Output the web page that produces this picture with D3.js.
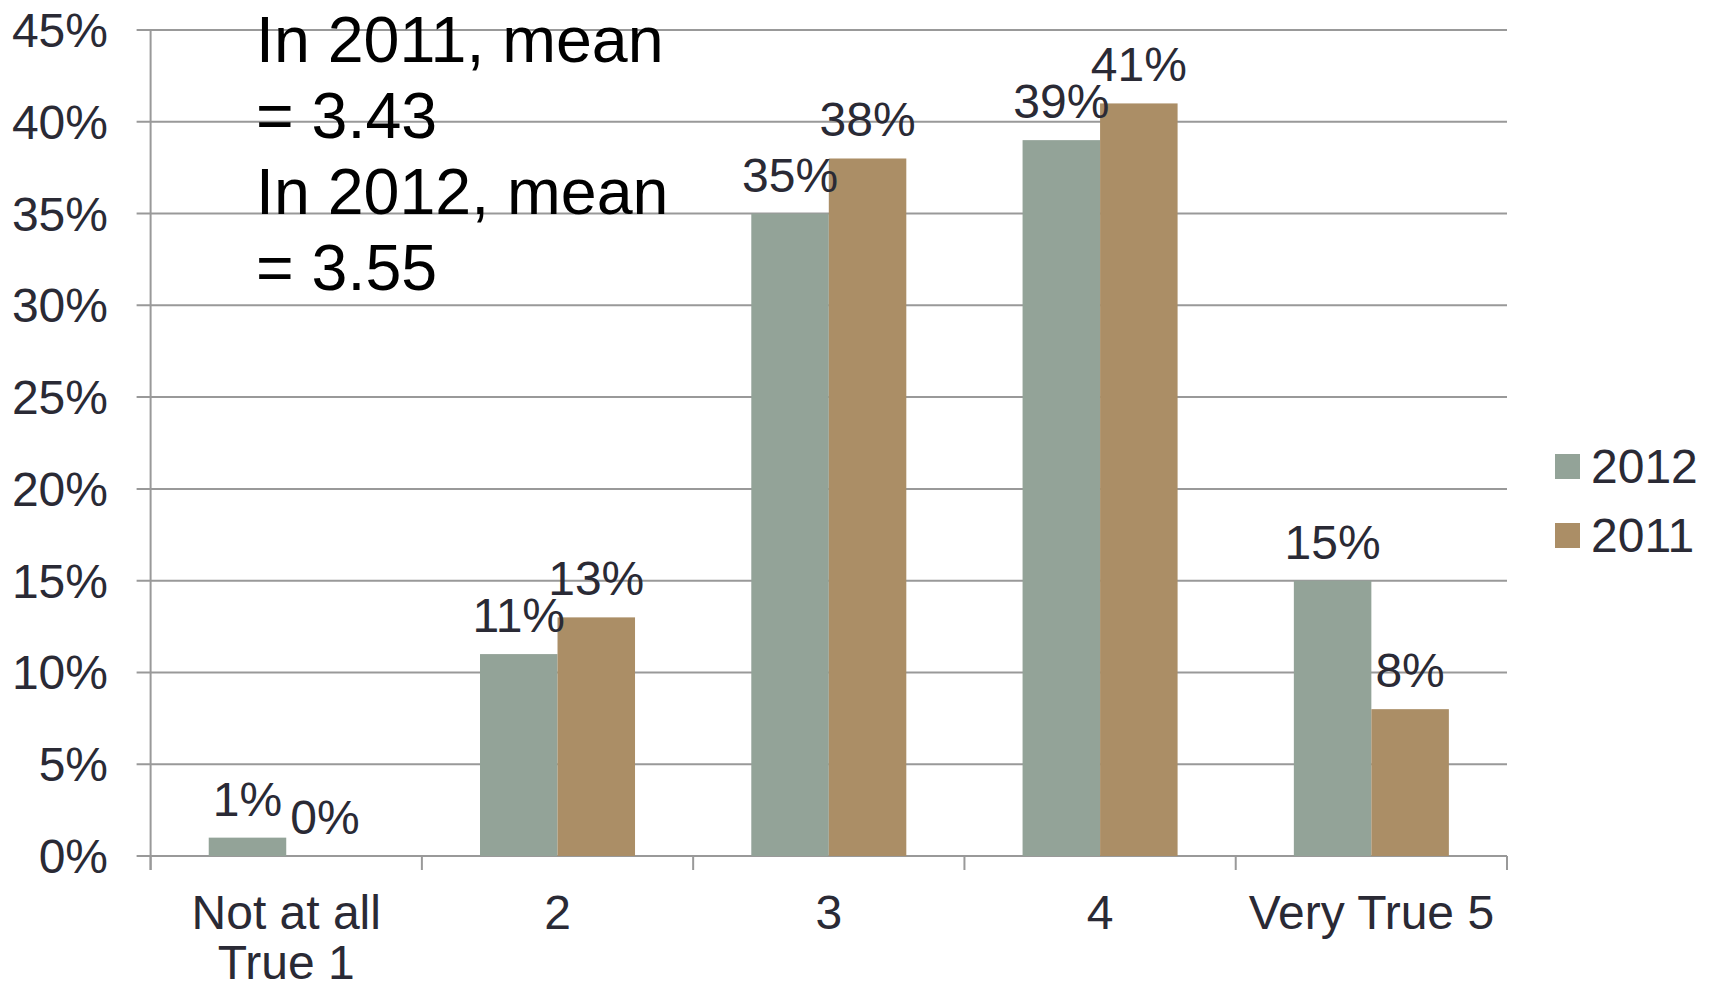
<!DOCTYPE html>
<html>
<head>
<meta charset="utf-8">
<script src="https://cdn.jsdelivr.net/npm/d3@7"></script>
<style>
  html, body { margin: 0; padding: 0; background: #fff; }
  svg { display: block; font-family: "Liberation Sans", Arial, sans-serif; }
</style>
</head>
<body>
<svg id="chart" width="1711" height="989"></svg>
<script>
// Response categories (labels may wrap onto two lines)
const categories = [["Not at all", "True 1"], ["2"], ["3"], ["4"], ["Very True 5"]];
const seriesNames = ["2012", "2011"];
const values2012 = [1, 11, 35, 39, 15];
const values2011 = [0, 13, 38, 41, 8];
const yTicks = [0, 5, 10, 15, 20, 25, 30, 35, 40, 45];
const notes = ["In 2011, mean", "= 3.43", "In 2012, mean", "= 3.55"];

const colors = { "2012": "#93a398", "2011": "#ab8e66" };
const textColor = "#2a2a35";
const gridColor = "#999999";
const labelSize = 48;

const svg = d3.select("#chart");
const plotLeft = 150.6, plotRight = 1507, plotTop = 30, plotBottom = 856;

const catKeys = categories.map((c, i) => i);
const x0 = d3.scaleBand().domain(catKeys).range([plotLeft, plotRight]).paddingInner(0).paddingOuter(0);
const x1 = d3.scaleBand().domain(seriesNames).range([0, x0.bandwidth()]).paddingInner(0).paddingOuter(0.75);
const y = d3.scaleLinear().domain([0, 45]).range([plotBottom, plotTop]);

// Horizontal gridlines
svg.append("g")
  .selectAll("line")
  .data(yTicks)
  .join("line")
  .attr("x1", plotLeft - 14).attr("x2", plotRight)
  .attr("y1", d => y(d)).attr("y2", d => y(d))
  .attr("stroke", gridColor).attr("stroke-width", 2);

// Y axis line
svg.append("line")
  .attr("x1", plotLeft).attr("x2", plotLeft)
  .attr("y1", plotTop).attr("y2", plotBottom + 14)
  .attr("stroke", gridColor).attr("stroke-width", 2);

// X axis tick marks at category boundaries
const bounds = catKeys.map(k => x0(k)).concat([plotRight]);
svg.append("g").selectAll("line")
  .data(bounds)
  .join("line")
  .attr("x1", d => d).attr("x2", d => d)
  .attr("y1", plotBottom).attr("y2", plotBottom + 14)
  .attr("stroke", gridColor).attr("stroke-width", 2);

// Y tick labels
svg.append("g").selectAll("text")
  .data(yTicks)
  .join("text")
  .attr("x", 108)
  .attr("y", d => y(d) + 17)
  .attr("text-anchor", "end")
  .attr("font-size", labelSize)
  .attr("fill", textColor)
  .text(d => d + "%");

// Bars
const rows = catKeys.map(i => ({ cat: i, vals: [
  { s: "2012", v: values2012[i] },
  { s: "2011", v: values2011[i] }
]}));

const groups = svg.append("g").selectAll("g")
  .data(rows)
  .join("g")
  .attr("transform", d => `translate(${x0(d.cat)},0)`);

groups.selectAll("rect")
  .data(d => d.vals)
  .join("rect")
  .attr("x", d => x1(d.s))
  .attr("y", d => y(d.v))
  .attr("width", x1.bandwidth())
  .attr("height", d => y(0) - y(d.v))
  .attr("fill", d => colors[d.s]);

groups.selectAll("text")
  .data(d => d.vals)
  .join("text")
  .attr("x", d => x1(d.s) + x1.bandwidth() / 2)
  .attr("y", d => y(d.v) - 22)
  .attr("text-anchor", "middle")
  .attr("font-size", labelSize)
  .attr("fill", textColor)
  .text(d => d.v + "%");

// Category labels
const catLabels = svg.append("g").selectAll("text")
  .data(categories)
  .join("text")
  .attr("text-anchor", "middle")
  .attr("font-size", labelSize)
  .attr("fill", textColor);
catLabels.selectAll("tspan")
  .data((d, i) => d.map((line, j) => ({ line, j, i })))
  .join("tspan")
  .attr("x", d => x0(d.i) + x0.bandwidth() / 2)
  .attr("y", d => 929 + d.j * 50)
  .text(d => d.line);

// Legend
const legend = svg.append("g").selectAll("g")
  .data(seriesNames)
  .join("g")
  .attr("transform", (d, i) => `translate(1555, ${454 + i * 69})`);
legend.append("rect")
  .attr("width", 25).attr("height", 25)
  .attr("fill", d => colors[d]);
legend.append("text")
  .attr("x", 36).attr("y", 29)
  .attr("font-size", labelSize)
  .attr("fill", textColor)
  .text(d => d);

// Mean annotation
svg.append("g").selectAll("text")
  .data(notes)
  .join("text")
  .attr("x", 256)
  .attr("y", (d, i) => 62 + i * 76)
  .attr("font-size", 64.5)
  .attr("fill", "#000")
  .text(d => d);
</script>
</body>
</html>
